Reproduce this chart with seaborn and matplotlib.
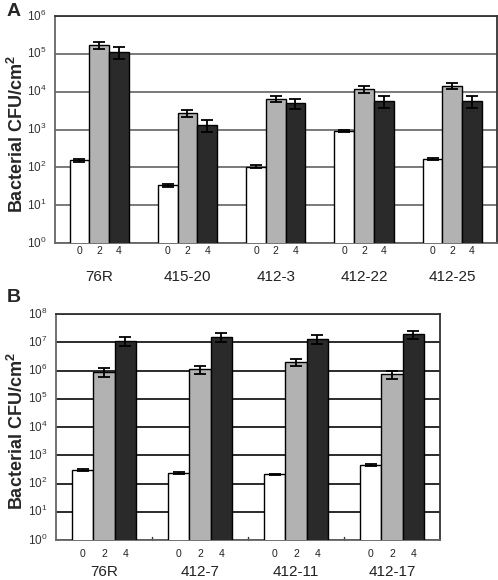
import numpy as np
import pandas as pd
import matplotlib
matplotlib.use("Agg")
import matplotlib.pyplot as plt
import matplotlib.transforms as mtrans
from matplotlib.ticker import LogLocator, NullLocator
import seaborn as sns

# ---------------- data ----------------
days = ["0", "2", "4"]

lines_a = ["76R", "415-20", "412-3", "412-22", "412-25"]
a_day0 = [155, 34, 105, 900, 167]
a_day2 = [1.7e5, 2.75e3, 6.5e3, 1.17e4, 1.45e4]
a_day4 = [1.15e5, 1.3e3, 5.0e3, 5.8e3, 5.8e3]
a_err0 = [15, 3, 8, 60, 12]
a_err2 = [3.5e4, 550, 1200, 2200, 2700]
a_err4 = [4.0e4, 450, 1500, 2000, 2000]

lines_b = ["76R", "412-7", "412-11", "412-17"]
b_day0 = [300, 240, 210, 450]
b_day2 = [9.1e5, 1.1e6, 1.95e6, 7.6e5]
b_day4 = [1.13e7, 1.58e7, 1.34e7, 1.9e7]
b_err0 = [30, 20, 15, 30]
b_err2 = [3.0e5, 3.5e5, 5.5e5, 2.4e5]
b_err4 = [4.0e6, 6.0e6, 5.0e6, 6.0e6]

bar_colors = ["#ffffff", "#b2b2b2", "#2a2a2a"]


def make_df(lines, v0, v2, v4, e0, e2, e4):
    rows = []
    for vals, errs, d in zip((v0, v2, v4), (e0, e2, e4), days):
        for ln, v, e in zip(lines, vals, errs):
            rows.append({"line": ln, "day": d, "cfu": v, "err": e})
    return pd.DataFrame(rows)


df_a = make_df(lines_a, a_day0, a_day2, a_day4, a_err0, a_err2, a_err4)
df_b = make_df(lines_b, b_day0, b_day2, b_day4, b_err0, b_err2, b_err4)

sns.set_theme(style="white")
plt.rcParams["font.family"] = ["Liberation Sans", "DejaVu Sans"]
plt.rcParams["mathtext.fontset"] = "custom"
plt.rcParams["mathtext.rm"] = "Liberation Sans"
plt.rcParams["mathtext.bf"] = "Liberation Sans:bold"
plt.rcParams["mathtext.it"] = "Liberation Sans:italic"

fig = plt.figure(figsize=(4.98, 5.80), dpi=100)
ax_a = fig.add_axes([55 / 498, 1 - 243 / 580, (496.5 - 55) / 498, (243 - 16) / 580])
ax_b = fig.add_axes([56 / 498, 1 - 540 / 580, (440 - 56) / 498, (540 - 314) / 580])


def draw_panel(ax, df, lines, ymax, grid_color, boundary_ticks,
               minor_pad, major_pad):
    ax.set_yscale("log")
    sns.barplot(data=df, x="line", y="cfu", hue="day", order=lines,
                hue_order=days, palette=bar_colors, edgecolor="black",
                linewidth=1.0, errorbar=None, width=0.67, gap=0,
                legend=False, ax=ax, zorder=3)
    ax.set_ylim(1, ymax)
    ax.set_xlim(-0.5, len(lines) - 0.5)

    # error bars
    centers = []
    bar_containers = list(ax.containers)
    for k, cont in enumerate(bar_containers):
        sub = df[df["day"] == days[k]].set_index("line").loc[lines]
        xs = [p.get_x() + p.get_width() / 2 for p in cont.patches]
        ax.errorbar(xs, sub["cfu"].values, yerr=sub["err"].values, fmt="none",
                    ecolor="black", elinewidth=1.3, capsize=4, capthick=1.3,
                    zorder=4)
        centers += list(zip(xs, [days[k]] * len(xs)))

    # gridlines
    ax.yaxis.set_major_locator(LogLocator(base=10, numticks=20))
    ax.yaxis.set_minor_locator(NullLocator())
    ax.grid(axis="y", color=grid_color, linewidth=1.3, zorder=0)
    ax.grid(axis="x", visible=False)
    ax.set_axisbelow(True)

    ax.tick_params(axis="y", length=0, labelsize=8.5, labelcolor="#333333", pad=6)
    for lab in ax.get_yticklabels():
        lab.set_verticalalignment("center")

    # day labels as minor ticks, group names as major ticks
    ax.xaxis.remove_overlapping_locs = False
    centers.sort()
    ax.set_xticks([c[0] for c in centers], minor=True)
    ax.set_xticklabels([c[1] for c in centers], minor=True)
    ax.tick_params(axis="x", which="minor", length=0, labelsize=7.5,
                   labelcolor="#222222", pad=minor_pad)
    ax.set_xticks(range(len(lines)))
    ax.set_xticklabels(lines)
    ax.tick_params(axis="x", which="major", length=0, labelsize=11,
                   labelcolor="#222222", pad=major_pad)
    ax.set_xlabel("")
    ax.set_ylabel("Bacterial CFU/cm$^\\mathbf{2}$", fontsize=13,
                  fontweight="bold")

    for s in ["top", "right"]:
        ax.spines[s].set_color("#333333")
        ax.spines[s].set_linewidth(1.3)
    for s in ["left", "bottom"]:
        ax.spines[s].set_color("#666666")
        ax.spines[s].set_linewidth(1.3)

    if boundary_ticks:
        trans = mtrans.blended_transform_factory(ax.transData, ax.transAxes)
        for b in np.arange(0.5, len(lines) - 0.5, 1.0):
            ax.plot([b, b], [0, 0.015], color="#333333", lw=1.0,
                    transform=trans, clip_on=False)


draw_panel(ax_a, df_a, lines_a, 1e6, "#6e6e6e", False, 2, 19.5)
draw_panel(ax_b, df_b, lines_b, 1e8, "#1a1a1a", True, 6.5, 18)

ax_a.yaxis.set_label_coords((27 - 55) / 441.5, 0.48)
ax_b.yaxis.set_label_coords((27 - 56) / 384, 0.48)

fig.text(7 / 498, 1 - 3 / 580, "A", fontsize=14, fontweight="bold", va="top")
fig.text(7 / 498, 1 - 289 / 580, "B", fontsize=14, fontweight="bold", va="top")

fig.savefig("out.png", dpi=100)
